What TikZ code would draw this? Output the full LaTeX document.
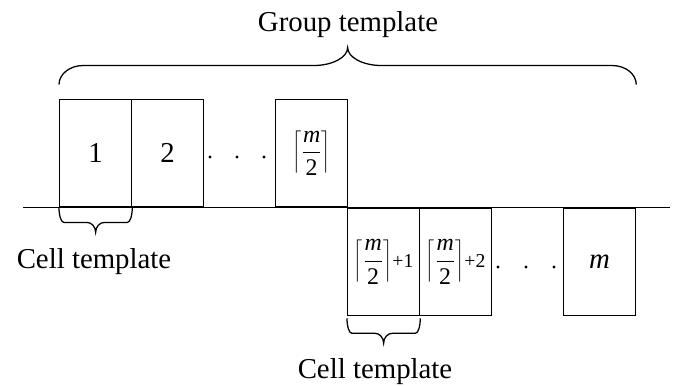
\documentclass[tikz,border=0pt]{standalone}
\usepackage{fontspec}
\setmainfont{Liberation Serif}
\usetikzlibrary{calc}
\newcommand{\halfm}{$\left\lceil\displaystyle\frac{\textit{m}}{\mbox{2}}\right\rceil$}
\newcommand{\plusn}[1]{{\fontsize{14}{16}\selectfont +#1}}
% #1 start, #2 end, #3 end depth, #4 tip depth, #5 curl width, #6 tip width
\newcommand{\tmplbrace}[6]{%
    \draw [line width=0.9pt] let \p1=(#1), \p2=(#2), \n1={0.5*(\x1+\x2)} in
        (\p1) .. controls ({\x1},{\y1+0.55*#3}) and ({\x1+0.45*#5},{\y1+#3}) .. ({\x1+#5},{\y1+#3})
        -- ({\n1-#6},{\y1+#3}) .. controls ({\n1-0.45*#6},{\y1+#3}) and ({\n1},{\y1+#3+0.45*(#4-#3)}) .. ({\n1},{\y1+#4})
        .. controls ({\n1},{\y1+#3+0.45*(#4-#3)}) and ({\n1+0.45*#6},{\y1+#3}) .. ({\n1+#6},{\y1+#3})
        -- ({\x2-#5},{\y2+#3}) .. controls ({\x2-0.45*#5},{\y2+#3}) and ({\x2},{\y2+0.55*#3}) .. (\p2);}
\begin{document}
\begin{tikzpicture}[
    cellbox/.style={draw, line width=0.9pt, minimum width=1.8cm, minimum height=2.69cm, inner sep=0pt, font=\fontsize{20.5}{24}\selectfont},
    fracbox/.style={cellbox, font=\fontsize{17}{20}\selectfont},
    lbl/.style={inner sep=0pt, font=\fontsize{20.5}{24}\selectfont}
]
    \useasboundingbox (0,0) rectangle (16.95,9.675);
    % time axis
    \coordinate (axisL) at (0.575,4.49);
    \coordinate (axisR) at (16.75,4.49);
    \draw [line width=0.9pt] (axisL) -- (axisR);
    % first half of the cells, above the axis
    \node [cellbox, anchor=south west] (u1) at (1.475,4.49) {1};
    \node [cellbox, anchor=south west] (u2) at (3.275,4.49) {2};
    \node [fracbox, anchor=south west] (u3) at (6.875,4.49) {\halfm};
    % second half, below the axis
    \node [fracbox, anchor=north west] (l1) at (8.675,4.49) {\halfm\plusn{1}};
    \node [fracbox, anchor=north west] (l2) at (10.475,4.49) {\halfm\plusn{2}};
    \node [cellbox, anchor=north west] (l3) at (14.075,4.49) {\textit{m}};
    \foreach \x in {5.25,5.925,6.6} \fill (\x,5.75) circle (0.04);
    \foreach \x in {12.45,13.15,13.85} \fill (\x,3.0) circle (0.04);
    % braces
    \coordinate (grpL) at ([yshift=0.35cm]u1.north west);
    \coordinate (grpR) at (grpL -| l3.east);
    \coordinate (cellA) at ([yshift=-0.05cm]l1.south west);
    \coordinate (cellB) at ([yshift=-0.05cm]l1.south east);
    \tmplbrace{grpL}{grpR}{0.475cm}{0.925cm}{0.6cm}{0.85cm}
    \tmplbrace{u1.south west}{u1.south east}{-0.375cm}{-0.625cm}{0.12cm}{0.22cm}
    \tmplbrace{cellA}{cellB}{-0.375cm}{-0.625cm}{0.12cm}{0.22cm}
    \node [lbl] (grp)   at (8.7,9.05)    {Group template};
    \node [lbl] (cellL) at (2.35,3.125)  {Cell template};
    \node [lbl] (cellR) at (9.375,0.375) {Cell template};
\end{tikzpicture}
\end{document}
